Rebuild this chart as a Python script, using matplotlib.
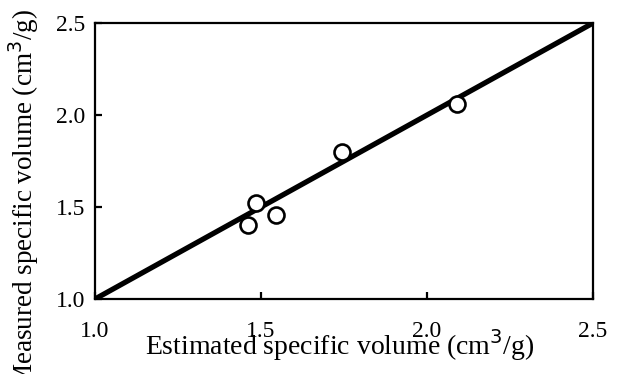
import matplotlib
matplotlib.use("Agg")
import matplotlib.pyplot as plt

# data
estimated = [1.462, 1.485, 1.544, 1.743, 2.089]
measured = [1.402, 1.520, 1.457, 1.800, 2.060]
line_x = [1.0, 2.5]
line_y = [1.0, 2.5]
ticks = [1.0, 1.5, 2.0, 2.5]
tick_labels = ["1.0", "1.5", "2.0", "2.5"]

plt.rcParams['font.family'] = ['Liberation Serif', 'DejaVu Serif']

fig = plt.figure(figsize=(6.23, 3.74), dpi=100)
ax = fig.add_axes([0.1525, 0.2005, 0.7995, 0.738])

ax.plot(line_x, line_y, color='black', linewidth=3.8, solid_capstyle='butt', zorder=2)
ax.plot(estimated, measured, 'o', markersize=11.5, markerfacecolor='white',
        markeredgecolor='black', markeredgewidth=1.9, zorder=3)

ax.set_xlim(1.0, 2.5)
ax.set_ylim(1.0, 2.5)
ax.set_xticks(ticks)
ax.set_xticklabels(tick_labels)
ax.set_yticks(ticks)
ax.set_yticklabels(tick_labels)
ax.tick_params(direction='in', length=5, width=1.6, labelsize=17)
ax.tick_params(axis='x', pad=16)
ax.tick_params(axis='y', pad=7)
for s in ax.spines.values():
    s.set_linewidth(1.6)

fig.text(340 / 623, 1 - 355 / 374, "Estimated specific volume (cm$^3$/g)",
         ha='center', va='baseline', fontsize=20)
fig.text(33 / 623, 1 - 198 / 374, "Measured specific volume (cm$^3$/g)",
         ha='center', va='baseline', rotation=90, rotation_mode='anchor', fontsize=19.5)

fig.savefig("out.png", dpi=100)
